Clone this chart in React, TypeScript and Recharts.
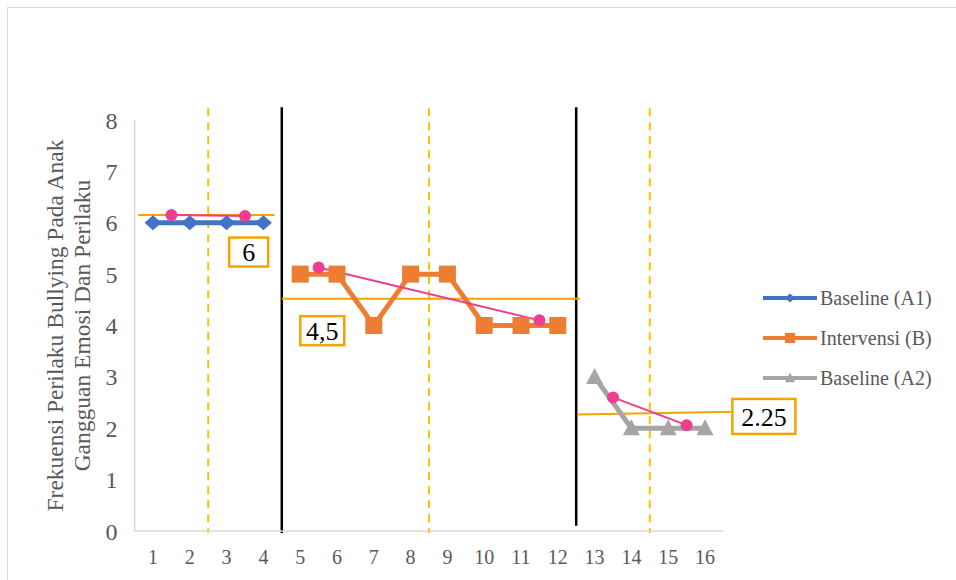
import React from 'react';
import { ComposedChart, Line, XAxis, YAxis, ReferenceLine, ReferenceDot, Legend, Label } from 'recharts';

const xTicks = [1, 2, 3, 4, 5, 6, 7, 8, 9, 10, 11, 12, 13, 14, 15, 16];
const yTicks = [0, 1, 2, 3, 4, 5, 6, 7, 8];

const a1Sessions = [1, 2, 3, 4];
const a1Values = [6, 6, 6, 6];
const bSessions = [5, 6, 7, 8, 9, 10, 11, 12];
const bValues = [5, 5, 4, 5, 5, 4, 4, 4];
const a2Sessions = [13, 14, 15, 16];
const a2Values = [3, 2, 2, 2];

const trendA1X = [1.5, 3.5];
const trendA1Y = [6.15, 6.13];
const trendBX = [5.5, 11.5];
const trendBY = [5.13, 4.1];
const trendA2X = [13.5, 15.5];
const trendA2Y = [2.6, 2.06];

const phaseLines = [4.5, 12.5];
const medianLines = [2.5, 8.5, 14.5];

const levelA1 = { x1: 0.6, x2: 4.3, y1: 6.15, y2: 6.15 };
const levelB = { x1: 4.5, x2: 12.6, y1: 4.52, y2: 4.52 };
const levelA2 = { x1: 12.55, x2: 16.8, y1: 2.27, y2: 2.32 };

const boxLabels = [
  { text: '6', x: 3.6, y: 5.43, w: 39, h: 29 },
  { text: '4,5', x: 5.6, y: 3.9, w: 44, h: 29 },
  { text: '2.25', x: 17.6, y: 2.23, w: 63, h: 35 },
];

const seriesNames = ['Baseline (A1)', 'Intervensi (B)', 'Baseline (A2)'];

const BLUE = '#4472C4';
const ORANGE = '#ED7D31';
const GRAY = '#A5A5A5';
const PINK = '#EC3F8F';
const GOLD = '#F5A300';
const DASH = '#FFC000';
const TEXT = '#595959';
const FONT = '"Liberation Serif", "Times New Roman", serif';

const zip = (xs: number[], ys: number[]) => xs.map((x, i) => ({ x, y: ys[i] }));

const a1Data = zip(a1Sessions, a1Values);
const bData = zip(bSessions, bValues);
const a2Data = zip(a2Sessions, a2Values);
const tA1 = zip(trendA1X, trendA1Y);
const tB = zip(trendBX, trendBY);
const tA2 = zip(trendA2X, trendA2Y);

const diamond = (cx: number, cy: number, color: string, s = 1, key?: any) => (
  <path key={key} d={`M${cx},${cy - 7.5 * s} L${cx + 8.5 * s},${cy} L${cx},${cy + 7.5 * s} L${cx - 8.5 * s},${cy} Z`} fill={color} />
);
const square = (cx: number, cy: number, color: string, s = 1, key?: any) => (
  <rect key={key} x={cx - 8.5 * s} y={cy - 8.5 * s} width={17 * s} height={17 * s} fill={color} />
);
const triangle = (cx: number, cy: number, color: string, s = 1, key?: any) => (
  <path key={key} d={`M${cx},${cy - 9 * s} L${cx + 8.5 * s},${cy + 7 * s} L${cx - 8.5 * s},${cy + 7 * s} Z`} fill={color} />
);

const markerFns = [diamond, square, triangle];
const colors = [BLUE, ORANGE, GRAY];

const DiamondDot = (p: any) => diamond(p.cx, p.cy, BLUE, 1, `d${p.index}`);
const SquareDot = (p: any) => square(p.cx, p.cy, ORANGE, 1, `s${p.index}`);
const TriangleDot = (p: any) => triangle(p.cx, p.cy, GRAY, 1, `t${p.index}`);
const PinkDot = (p: any) => <circle key={`p${p.index}`} cx={p.cx} cy={p.cy} r={6} fill={PINK} />;

const renderLegend = () => (
  <div style={{ fontFamily: FONT, fontSize: 20, color: TEXT }}>
    {seriesNames.map((name, i) => (
      <div key={name} style={{ display: 'flex', alignItems: 'center', height: 40 }}>
        <svg width={60} height={20} style={{ display: 'block' }}>
          <line x1={3} y1={10} x2={57} y2={10} stroke={colors[i]} strokeWidth={4} />
          {markerFns[i](30, 10, colors[i], 0.6)}
        </svg>
        <span style={{ whiteSpace: 'nowrap' }}>{name}</span>
      </div>
    ))}
  </div>
);

const renderYLabel = (props: any) => {
  const vb = props.viewBox || { x: 0, y: 120, width: 135, height: 411 };
  const cy = vb.y + vb.height / 2;
  return (
    <g>
      <text x={63} y={cy} transform={`rotate(-90, 63, ${cy})`} textAnchor="middle" fill={TEXT} fontSize={23.5} fontFamily={FONT}>
        Frekuensi Perilaku Bullying Pada Anak
      </text>
      <text x={90} y={cy} transform={`rotate(-90, 90, ${cy})`} textAnchor="middle" fill={TEXT} fontSize={23.5} fontFamily={FONT}>
        Gangguan Emosi Dan Perilaku
      </text>
    </g>
  );
};

const makeBox = (b: { text: string; w: number; h: number }) => (p: any) => (
  <g>
    <rect x={p.cx - b.w / 2} y={p.cy - b.h / 2} width={b.w} height={b.h} fill="#fff" stroke={GOLD} strokeWidth={2.5} />
    <text x={p.cx} y={p.cy} dy="0.35em" textAnchor="middle" fontSize={26} fontFamily={FONT} fill="#000">
      {b.text}
    </text>
  </g>
);

export default function App() {
  return (
    <div style={{ position: 'absolute', left: 0, top: 0, width: 956, height: 580, overflow: 'hidden', background: '#fff' }}>
      <div
        style={{
          position: 'absolute',
          left: 7,
          top: 7,
          width: 1000,
          height: 700,
          borderLeft: '1px solid #d9d9d9',
          borderTop: '1px solid #d9d9d9',
        }}
      />
      <div style={{ position: 'absolute', left: 0, top: 0 }}>
        <ComposedChart width={956} height={580} margin={{ top: 120, right: 232.6, bottom: 0, left: 0 }}>
          <XAxis
            type="number"
            dataKey="x"
            domain={[0.5, 16.5]}
            ticks={xTicks}
            interval={0}
            height={49}
            tickLine={false}
            tickMargin={13}
            axisLine={{ stroke: '#d9d9d9', strokeWidth: 1.5 }}
            tick={{ fill: TEXT, fontSize: 20, fontFamily: FONT }}
          />
          <YAxis
            type="number"
            domain={[0, 8]}
            ticks={yTicks}
            interval={0}
            width={134.6}
            tickLine={false}
            tickMargin={11}
            axisLine={{ stroke: '#d9d9d9', strokeWidth: 1.5 }}
            tick={{ fill: TEXT, fontSize: 24, fontFamily: FONT }}
          >
            <Label content={renderYLabel} />
          </YAxis>
          <Legend
            layout="vertical"
            align="center"
            verticalAlign="middle"
            content={renderLegend}
            wrapperStyle={{ left: 760, top: 278, width: 196, height: 120 }}
          />

          {medianLines.map((x) => (
            <ReferenceLine
              key={`m${x}`}
              segment={[{ x, y: 8.23 }, { x, y: -0.04 }]}
              stroke={DASH}
              strokeWidth={2}
              strokeDasharray="8 6"
              ifOverflow="visible"
            />
          ))}
          <ReferenceLine segment={[{ x: phaseLines[0], y: 8.25 }, { x: phaseLines[0], y: -0.04 }]} stroke="#000" strokeWidth={2.5} ifOverflow="visible" />
          <ReferenceLine segment={[{ x: phaseLines[1], y: 8.25 }, { x: phaseLines[1], y: 0.1 }]} stroke="#000" strokeWidth={2.5} ifOverflow="visible" />

          <ReferenceLine segment={[{ x: levelA1.x1, y: levelA1.y1 }, { x: levelA1.x2, y: levelA1.y2 }]} stroke={GOLD} strokeWidth={2} ifOverflow="visible" />
          <ReferenceLine segment={[{ x: levelB.x1, y: levelB.y1 }, { x: levelB.x2, y: levelB.y2 }]} stroke={GOLD} strokeWidth={2} ifOverflow="visible" />
          <ReferenceLine segment={[{ x: levelA2.x1, y: levelA2.y1 }, { x: levelA2.x2, y: levelA2.y2 }]} stroke={GOLD} strokeWidth={2} ifOverflow="visible" />

          <Line data={a1Data} dataKey="y" name={seriesNames[0]} stroke={BLUE} strokeWidth={5} dot={DiamondDot} activeDot={false} isAnimationActive={false} />
          <Line data={bData} dataKey="y" name={seriesNames[1]} stroke={ORANGE} strokeWidth={5} dot={SquareDot} activeDot={false} isAnimationActive={false} />
          <Line data={a2Data} dataKey="y" name={seriesNames[2]} stroke={GRAY} strokeWidth={5} dot={TriangleDot} activeDot={false} isAnimationActive={false} />

          <Line data={tA1} dataKey="y" name="trendA1" stroke={PINK} strokeWidth={2} dot={PinkDot} activeDot={false} legendType="none" isAnimationActive={false} />
          <Line data={tB} dataKey="y" name="trendB" stroke={PINK} strokeWidth={2} dot={PinkDot} activeDot={false} legendType="none" isAnimationActive={false} />
          <Line data={tA2} dataKey="y" name="trendA2" stroke={PINK} strokeWidth={2} dot={PinkDot} activeDot={false} legendType="none" isAnimationActive={false} />

          {boxLabels.map((b) => (
            <ReferenceDot key={b.text} x={b.x} y={b.y} r={0} ifOverflow="visible" shape={makeBox(b)} />
          ))}
        </ComposedChart>
      </div>
    </div>
  );
}
